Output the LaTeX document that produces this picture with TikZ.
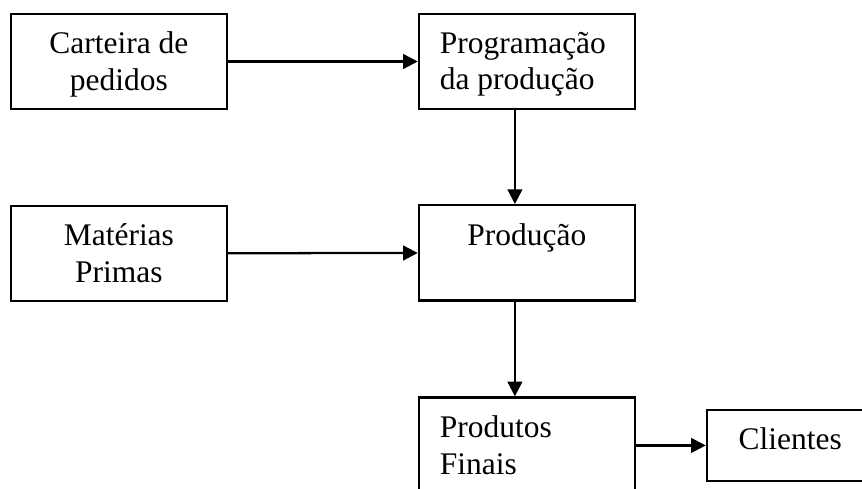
\documentclass[tikz,border=0pt]{standalone}
\usepackage{fontspec}
\setmainfont{Liberation Serif}
\usetikzlibrary{positioning,arrows.meta}

\begin{document}
\begin{tikzpicture}[
  x=0.75pt,y=-0.75pt,
  block/.style={draw=black,line width=1.7pt,minimum width=162pt,minimum height=71.5pt,inner sep=0pt},
  blocktext/.style={font=\fontsize{23.6pt}{27.5pt}\selectfont,inner sep=0pt,text=black},
  mid/.style={label={[blocktext,anchor=north,align=center,yshift=-14.3pt]north:#1}},
  flush/.style={label={[blocktext,anchor=north west,align=left,xshift=16.4pt,yshift=-14.3pt]north west:#1}},
  flow/.style={line width=1.7pt,-{Triangle[length=11pt,width=11pt]}}
]
\useasboundingbox (0,0) rectangle (862,488);
\clip (0,0) rectangle (862,488);

% Upper row
\node[block,mid={Carteira de\\pedidos}] (cart) at (118.9,61.5) {};
\node[block,right=142.3pt of cart,flush={Programação\\da produção}] (prog) {};

% Middle row
\node[block,below=70.7pt of cart,mid={Matérias\\Primas}] (mat) {};
\node[block,below=70.3pt of prog,mid={Produção}] (prod) {};

% Lower row (cut by the page edge)
\node[block,below=71pt of prod,minimum height=72pt,flush={Produtos\\Finais}] (prodf) {};
\node[block,right=52.3pt of prodf,minimum width=125pt,minimum height=53.25pt,mid={Clientes}] (cli) {};

\draw[flow] (cart) -- (prog);
\draw[flow] (mat) -- (prod);
\draw[flow] ([xshift=-9pt]prog.south) -- ([xshift=-9pt]prod.north);
\draw[flow] ([xshift=-9pt]prod.south) -- ([xshift=-9pt]prodf.north);
\draw[flow] (prodf.east) -- (prodf.east -| cli.west);
\end{tikzpicture}
\end{document}
